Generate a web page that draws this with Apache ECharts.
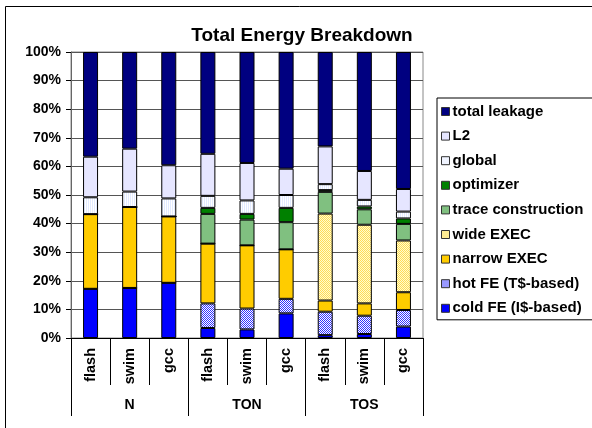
<!DOCTYPE html>
<html>
<head>
<meta charset="utf-8">
<script src="https://cdn.jsdelivr.net/npm/echarts@6/dist/echarts.min.js"></script>
<style>html,body{margin:0;padding:0;background:#fff}#c{width:592px;height:428px}</style>
</head>
<body>
<div id="c"></div>
<script>
var categories = ['flash','swim','gcc','flash','swim','gcc','flash','swim','gcc'];
var groups = ['N','TON','TOS'];
var yTicks = [0,10,20,30,40,50,60,70,80,90,100];

var coldFE     = [17.2, 17.5, 19.3, 3.5, 3.0, 8.6, 1.0, 1.4, 4.0];
var hotFE      = [0, 0, 0, 8.6, 7.3, 5.1, 8.2, 6.4, 5.8];
var narrowEXEC = [26.1, 28.3, 23.2, 20.9, 22.1, 17.3, 3.9, 4.3, 6.2];
var wideEXEC   = [0, 0, 0, 0, 0, 0, 30.4, 27.5, 18.1];
var traceCons  = [0, 0, 0, 10.4, 9.0, 9.5, 7.6, 5.4, 5.8];
var optimizer  = [0, 0, 0, 2.1, 2.0, 5.0, 0.6, 1.0, 1.9];
var globalE    = [5.9, 5.4, 6.3, 4.2, 4.7, 4.5, 2.1, 2.3, 2.4];
var l2         = [14.2, 15.0, 11.6, 14.7, 13.1, 9.2, 13.2, 10.1, 7.9];
var leakage    = [36.6, 33.8, 39.6, 35.6, 38.8, 40.8, 33.0, 41.6, 47.9];

function pattern(a, b, mode) {
  var cv = document.createElement('canvas');
  cv.width = 2; cv.height = 2;
  var ctx = cv.getContext('2d');
  ctx.fillStyle = b; ctx.fillRect(0,0,2,2);
  ctx.fillStyle = a;
  if (mode === 'stripe') { ctx.fillRect(0,0,1,2); }
  else { ctx.fillRect(0,0,1,1); ctx.fillRect(1,1,1,1); }
  return {image: cv, repeat: 'repeat'};
}

var seriesDefs = [
  ['cold FE (I$-based)', coldFE, '#0000FF'],
  ['hot FE (T$-based)', hotFE, pattern('#3333FF', '#FFFFFF')],
  ['narrow EXEC', narrowEXEC, '#FFCC00'],
  ['wide EXEC', wideEXEC, pattern('#FFD95A', '#FFFFCC')],
  ['trace construction', traceCons, '#80C080'],
  ['optimizer', optimizer, '#008000'],
  ['global', globalE, pattern('#E2EAFF', '#FFFFFF', 'stripe')],
  ['L2', l2, '#E6E6FF'],
  ['total leakage', leakage, '#000080']
];

var series = seriesDefs.map(function (d) {
  return {
    name: d[0], type: 'bar', stack: 'total', barWidth: 15,
    xAxisIndex: 0, data: d[1],
    itemStyle: {color: d[2], borderColor: '#000', borderWidth: 1},
    emphasis: {disabled: true}
  };
});

var FONT = 'Arial, "Liberation Sans", sans-serif';
var chart = echarts.init(document.getElementById('c'));
chart.setOption({
  animation: false,
  backgroundColor: '#fff',
  title: {
    text: 'Total Energy Breakdown', left: 297, textAlign: 'center', top: 21,
    textStyle: {fontFamily: FONT, fontWeight: 'bold', fontSize: 19, color: '#000'}
  },
  graphic: [{
    type: 'rect', silent: true,
    shape: {x: 5.5, y: 6.5, width: 620, height: 440},
    style: {fill: null, stroke: '#000', lineWidth: 1}
  }],
  legend: {
    orient: 'vertical', left: 437, top: 98,
    data: seriesDefs.map(function (d) { return d[0]; }).reverse(),
    icon: 'rect',
    itemWidth: 8, itemHeight: 8, itemGap: 9.6,
    itemStyle: {borderWidth: 1, borderColor: '#333'},
    padding: [6, 30, 4, 4],
    borderColor: '#000', borderWidth: 1,
    textStyle: {fontFamily: FONT, fontWeight: 'bold', fontSize: 15, color: '#000', padding: [0,0,0,-2]},
    selectedMode: false
  },
  grid: {left: 71, top: 52, right: 169, bottom: 90, show: true, borderColor: '#888', borderWidth: 1},
  xAxis: [{
    type: 'category', data: categories, position: 'bottom',
    axisLine: {lineStyle: {color: '#000', width: 1}},
    axisTick: {show: true, length: 47, interval: 0, lineStyle: {color: '#000'}},
    axisLabel: {rotate: 90, margin: 10, interval: 0, fontFamily: FONT, fontWeight: 'bold', fontSize: 14.5, color: '#000'}
  }, {
    type: 'category', data: groups, position: 'bottom', offset: 78,
    axisLine: {show: false},
    axisTick: {show: true, inside: true, length: 78, interval: 0, lineStyle: {color: '#000'}},
    axisLabel: {inside: true, margin: 4, interval: 0, fontFamily: FONT, fontWeight: 'bold', fontSize: 14, color: '#000'}
  }],
  yAxis: {
    type: 'value', min: yTicks[0], max: yTicks[yTicks.length - 1], interval: 10,
    axisLine: {show: true, lineStyle: {color: '#666'}},
    axisTick: {show: true, length: 5, lineStyle: {color: '#000'}},
    splitLine: {lineStyle: {color: '#555', width: 1}},
    axisLabel: {formatter: '{value}%', margin: 10, fontFamily: FONT, fontWeight: 'bold', fontSize: 14, color: '#000'}
  },
  series: series
});
</script>
</body>
</html>
